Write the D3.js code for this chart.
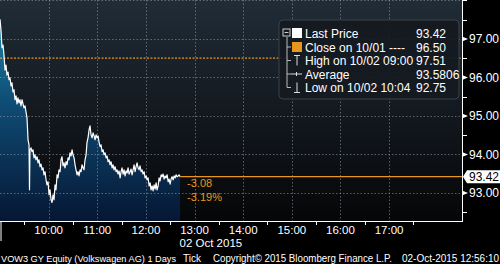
<!DOCTYPE html>
<html>
<head>
<meta charset="utf-8">
<script src="https://cdn.jsdelivr.net/npm/d3@7"></script>
<style>
  body { margin: 0; background: #000; }
  svg { display: block; font-family: "Liberation Sans", Arial, sans-serif; }
</style>
</head>
<body>
<svg id="chart" width="500" height="264"></svg>
<script>
// minutes after 09:00 on 02 Oct 2015 (tick data)
const minutes = [0.0, 1.2, 2.5, 3.7, 4.9, 6.2, 7.4, 8.6, 9.9, 11.1, 12.3, 13.6, 14.8, 16.0, 17.3, 18.5, 19.8, 21.0, 22.2, 23.5,
  24.7, 25.9, 27.2, 28.4, 29.6, 30.9, 32.1, 33.3, 34.6, 35.8, 36.4, 37.0, 38.3, 39.5, 40.7, 42.0, 43.2, 44.4, 45.7, 46.9,
  48.1, 49.4, 50.6, 51.9, 53.1, 54.3, 55.6, 56.8, 58.0, 59.3, 60.5, 61.7, 63.0, 64.2, 65.4, 66.7, 67.9, 69.1, 70.4, 71.6,
  72.8, 74.1, 75.3, 76.5, 77.8, 79.0, 80.2, 81.5, 82.7, 84.0, 85.2, 86.4, 87.7, 88.9, 90.1, 91.4, 92.6, 93.8, 95.1, 96.3,
  97.5, 98.8, 100.0, 101.2, 102.5, 103.7, 104.9, 106.2, 107.4, 108.6, 109.9, 111.1, 112.3, 113.6, 114.8, 116.1, 117.3, 118.5, 119.8, 121.0,
  122.2, 123.5, 124.7, 125.9, 127.2, 128.4, 129.6, 130.9, 132.1, 133.3, 134.6, 135.8, 137.0, 138.3, 139.5, 140.7, 142.0, 143.2, 144.4, 145.7,
  146.9, 148.2, 149.4, 150.6, 151.9, 153.1, 154.3, 155.6, 156.8, 158.0, 159.3, 160.5, 161.7, 163.0, 164.2, 165.4, 166.7, 167.9, 169.1, 170.4,
  171.6, 172.8, 174.1, 175.3, 176.5, 177.8, 179.0, 180.3, 181.5, 182.7, 184.0, 185.2, 186.4, 187.7, 188.9, 190.1, 191.4, 192.6, 193.8, 195.1,
  196.3, 197.5, 198.8, 200.0, 201.2, 202.5, 203.7, 204.9, 206.2, 207.4, 208.6, 209.9, 211.1, 212.3, 213.6, 214.8, 216.1, 217.3, 218.5, 219.8,
  221.0, 222.2];
const prices = [97.51, 97.23, 96.77, 96.84, 96.58, 96.19, 96.32, 96.06, 96.14, 95.94, 95.99, 95.78, 95.86, 95.62, 95.68, 95.42, 95.52, 95.31, 95.47, 95.34,
  95.42, 95.26, 95.42, 95.31, 95.21, 95.26, 95.10, 94.95, 94.38, 94.25, 93.08, 94.12, 94.17, 94.07, 94.12, 93.91, 93.99, 93.86, 93.94, 93.78,
  93.86, 93.68, 93.75, 93.60, 93.65, 93.47, 93.55, 93.34, 93.21, 93.29, 92.95, 93.08, 92.82, 92.75, 92.95, 92.82, 93.21, 93.08, 93.47, 93.39,
  93.60, 93.55, 93.86, 93.94, 93.70, 93.78, 93.65, 93.81, 93.73, 93.91, 93.86, 94.04, 93.96, 94.12, 93.99, 93.91, 93.73, 93.60, 93.47, 93.55,
  93.44, 93.60, 93.55, 93.73, 93.65, 93.60, 93.86, 93.99, 94.32, 94.43, 94.64, 94.74, 94.51, 94.43, 94.56, 94.48, 94.38, 94.51, 94.43, 94.48,
  94.32, 94.20, 94.25, 94.07, 94.12, 93.99, 94.04, 93.91, 93.96, 93.81, 93.86, 93.73, 93.81, 93.65, 93.73, 93.60, 93.68, 93.55, 93.60, 93.49,
  93.57, 93.39, 93.55, 93.65, 93.49, 93.60, 93.44, 93.57, 93.52, 93.65, 93.49, 93.55, 93.62, 93.47, 93.60, 93.73, 93.55, 93.68, 93.78, 93.65,
  93.60, 93.70, 93.55, 93.60, 93.49, 93.55, 93.39, 93.44, 93.34, 93.39, 93.18, 93.26, 93.08, 93.18, 93.05, 93.21, 93.10, 93.26, 93.08, 93.18,
  93.39, 93.31, 93.47, 93.42, 93.49, 93.36, 93.44, 93.39, 93.47, 93.29, 93.36, 93.23, 93.36, 93.42, 93.34, 93.44, 93.39, 93.47, 93.42, 93.44,
  93.47, 93.42];

const lastPrice = 93.42;
const prevClose = 96.50;
const priceTicks = [98, 97, 96, 95, 94, 93];
const priceMinor = [97.5, 96.5, 95.5, 94.5, 92.5];
const hourTicks = ["10:00", "11:00", "12:00", "13:00", "14:00", "15:00", "16:00", "17:00"];
const halfHourTicks = ["09:30", "10:30", "11:30", "12:30", "13:30", "14:30", "15:30", "16:30", "17:30"];

const legendLabels = ["Last Price", "Close on 10/01 ----", "High on 10/02 09:00", "Average", "Low on 10/02 10:04"];
const legendValues = ["93.42", "96.50", "97.51", "93.5806", "92.75"];

const W = 500, H = 264;
const plot = {left: 0, top: 0, right: 462, bottom: 221};
const orange = "#e8961e";

const svg = d3.select("#chart");
const toMin = s => { const [h, m] = s.split(":").map(Number); return (h - 9) * 60 + m; };

const x = d3.scaleLinear().domain([0, 570]).range([plot.left, plot.right]);
const y = d3.scaleLinear().domain([92.27, 98.01]).range([plot.bottom, plot.top]);

const data = minutes.map((m, i) => ({m: m, p: prices[i]}));

const defs = svg.append("defs");
const bg = defs.append("linearGradient").attr("id", "bg")
    .attr("x1", 0).attr("y1", 0).attr("x2", 0).attr("y2", 1);
bg.append("stop").attr("offset", "0%").attr("stop-color", "#202c37");
bg.append("stop").attr("offset", "55%").attr("stop-color", "#12171d");
bg.append("stop").attr("offset", "100%").attr("stop-color", "#050607");

const ag = defs.append("linearGradient").attr("id", "areaGrad")
    .attr("gradientUnits", "userSpaceOnUse")
    .attr("x1", 0).attr("y1", plot.top).attr("x2", 0).attr("y2", plot.bottom);
ag.append("stop").attr("offset", "0%").attr("stop-color", "#1d8fb0");
ag.append("stop").attr("offset", "45%").attr("stop-color", "#0f4e76");
ag.append("stop").attr("offset", "100%").attr("stop-color", "#061634");

svg.append("rect").attr("width", W).attr("height", H).attr("fill", "#000");
svg.append("rect")
    .attr("x", plot.left).attr("y", plot.top)
    .attr("width", plot.right - plot.left).attr("height", plot.bottom - plot.top)
    .attr("fill", "url(#bg)");

// area under the price line
svg.append("path")
    .datum(data)
    .attr("fill", "url(#areaGrad)")
    .attr("d", d3.area().x(d => x(d.m)).y0(plot.bottom).y1(d => y(d.p)));

// grid
const grid = svg.append("g").attr("stroke", "#9aa3ab").attr("stroke-opacity", 0.55)
    .attr("stroke-dasharray", "1.5,2").attr("stroke-width", 1);
grid.selectAll("line.h").data(priceTicks).join("line")
    .attr("x1", plot.left).attr("x2", plot.right)
    .attr("y1", d => Math.round(y(d)) + 0.5).attr("y2", d => Math.round(y(d)) + 0.5);
grid.selectAll("line.v").data(hourTicks).join("line")
    .attr("y1", plot.top).attr("y2", plot.bottom)
    .attr("x1", d => Math.round(x(toMin(d))) + 0.5).attr("x2", d => Math.round(x(toMin(d))) + 0.5);

// previous close
svg.append("line")
    .attr("x1", plot.left).attr("x2", plot.right)
    .attr("y1", y(prevClose)).attr("y2", y(prevClose))
    .attr("stroke", orange).attr("stroke-width", 1.2).attr("stroke-dasharray", "2,1.5");

// price line
svg.append("path")
    .datum(data)
    .attr("fill", "none").attr("stroke", "#fff").attr("stroke-width", 1.2)
    .attr("stroke-linejoin", "round")
    .attr("d", d3.line().x(d => x(d.m)).y(d => y(d.p)));

// last price line
const lastM = minutes[minutes.length - 1];
svg.append("line")
    .attr("x1", x(lastM)).attr("x2", plot.right)
    .attr("y1", y(lastPrice)).attr("y2", y(lastPrice))
    .attr("stroke", orange).attr("stroke-width", 1.2);

svg.append("text").attr("x", x(lastM) + 7).attr("y", y(lastPrice) + 10)
    .attr("fill", orange).attr("font-size", 11).text("-3.08");
svg.append("text").attr("x", x(lastM) + 7).attr("y", y(lastPrice) + 24)
    .attr("fill", orange).attr("font-size", 11).text("-3.19%");

// axes frame
svg.append("line").attr("x1", plot.right + 0.5).attr("x2", plot.right + 0.5)
    .attr("y1", 0).attr("y2", plot.bottom + 0.5).attr("stroke", "#fff");
svg.append("line").attr("x1", 0).attr("x2", plot.right + 1)
    .attr("y1", plot.bottom + 0.5).attr("y2", plot.bottom + 0.5).attr("stroke", "#fff");
svg.append("line").attr("x1", 1).attr("x2", 1)
    .attr("y1", plot.bottom).attr("y2", plot.bottom + 20).attr("stroke", "#fff");

// bottom axis
const xAxis = svg.append("g").attr("fill", "#fff").attr("font-size", 11.5);
xAxis.selectAll("line").data(halfHourTicks).join("line")
    .attr("x1", d => Math.round(x(toMin(d))) + 0.5).attr("x2", d => Math.round(x(toMin(d))) + 0.5)
    .attr("y1", plot.bottom).attr("y2", plot.bottom + 4).attr("stroke", "#fff");
xAxis.selectAll("text").data(hourTicks).join("text")
    .attr("x", d => x(toMin(d))).attr("y", plot.bottom + 12.5)
    .attr("text-anchor", "middle").text(d => d);
svg.append("text").attr("x", x(toMin("13:00")) - 15).attr("y", plot.bottom + 25.5)
    .attr("fill", "#fff").attr("font-size", 11.5).text("02 Oct 2015");

// right axis
const yAxis = svg.append("g").attr("fill", "#fff").attr("font-size", 12);
yAxis.selectAll("line").data(priceMinor).join("line")
    .attr("x1", plot.right).attr("x2", plot.right + 5)
    .attr("y1", d => Math.round(y(d)) + 0.5).attr("y2", d => Math.round(y(d)) + 0.5)
    .attr("stroke", "#fff");
yAxis.selectAll("path").data(priceTicks.filter(d => d < 98)).join("path")
    .attr("d", d => `M${plot.right},${y(d) - 2.5}L${plot.right + 6},${y(d)}L${plot.right},${y(d) + 2.5}Z`);
yAxis.selectAll("text").data(priceTicks.filter(d => d < 98)).join("text")
    .attr("x", plot.right + 7).attr("y", d => y(d) + 4.5)
    .text(d => d3.format(".2f")(d));
svg.append("line").attr("x1", plot.right).attr("x2", plot.right + 5)
    .attr("y1", 0.5).attr("y2", 0.5).attr("stroke", "#fff");

// last price tag
const ly = y(lastPrice);
svg.append("path")
    .attr("d", `M${plot.right + 1},${ly}L${plot.right + 5},${ly - 6.5}L${W},${ly - 6.5}L${W},${ly + 6.5}L${plot.right + 5},${ly + 6.5}Z`)
    .attr("fill", "#fff");
svg.append("text").attr("x", plot.right + 7).attr("y", ly + 4.5)
    .attr("fill", "#000").attr("font-size", 12).text(lastPrice.toFixed(2));

// legend
const lg = svg.append("g").attr("transform", "translate(279,20)");
lg.append("rect").attr("width", 180).attr("height", 79).attr("rx", 4)
    .attr("fill", "#141a20").attr("fill-opacity", 0.93).attr("stroke", "#3b4249");
const rowY = [13, 27, 40.5, 54, 67.5];
lg.append("rect").attr("x", 4).attr("y", rowY[0] - 4).attr("width", 7).attr("height", 7)
    .attr("fill", "none").attr("stroke", "#ccc");
lg.append("line").attr("x1", 5.5).attr("x2", 9.5).attr("y1", rowY[0] - 0.5).attr("y2", rowY[0] - 0.5).attr("stroke", "#ccc");
lg.append("line").attr("x1", 8).attr("x2", 8).attr("y1", rowY[0] + 4).attr("y2", rowY[4])
    .attr("stroke", "#bbb");
lg.selectAll("line.br").data(rowY.slice(1)).join("line")
    .attr("x1", 8).attr("x2", 12).attr("y1", d => d).attr("y2", d => d).attr("stroke", "#bbb");
lg.append("rect").attr("x", 13).attr("y", rowY[0] - 5).attr("width", 10).attr("height", 10).attr("fill", "#fff");
lg.append("rect").attr("x", 13).attr("y", rowY[1] - 5).attr("width", 10).attr("height", 10).attr("fill", orange);
// high, average, low markers
const ic = lg.append("g").attr("stroke", "#ddd").attr("fill", "none");
ic.append("path").attr("d", `M15,${rowY[2] - 5}H21M18,${rowY[2] - 5}V${rowY[2] + 5}`);
ic.append("path").attr("d", `M12,${rowY[3]}H23M17.5,${rowY[3] - 2}V${rowY[3] + 2}`);
ic.append("path").attr("d", `M15,${rowY[4] + 5}H21M18,${rowY[4] - 5}V${rowY[4] + 5}`);
lg.selectAll("text.lab").data(legendLabels).join("text")
    .attr("x", 26).attr("y", (d, i) => rowY[i] + 4.5)
    .attr("fill", "#fff").attr("font-size", 12).text(d => d);
lg.selectAll("text.val").data(legendValues).join("text")
    .attr("x", 137).attr("y", (d, i) => rowY[i] + 4.5)
    .attr("fill", "#fff").attr("font-size", 12).text(d => d);

// footer
const foot = svg.append("g").attr("fill", "#fff").attr("font-size", 10);
foot.append("text").attr("x", 1).attr("y", 262).attr("font-size", 9.1)
    .attr("textLength", 175).attr("lengthAdjust", "spacingAndGlyphs")
    .text("VOW3 GY Equity (Volkswagen AG) 1 Days");
foot.append("text").attr("x", 183).attr("y", 262).text("Tick");
foot.append("text").attr("x", 213).attr("y", 262).attr("textLength", 179).attr("lengthAdjust", "spacingAndGlyphs")
    .text("Copyright\u00a9 2015 Bloomberg Finance L.P.");
foot.append("text").attr("x", 402).attr("y", 262).attr("textLength", 97).attr("lengthAdjust", "spacingAndGlyphs")
    .text("02-Oct-2015 12:56:10");
</script>
</body>
</html>
